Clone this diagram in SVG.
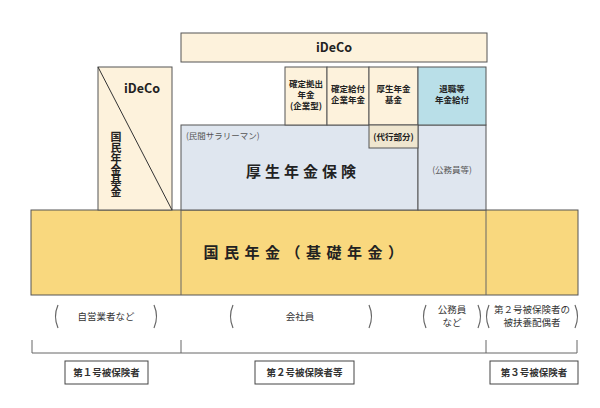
<svg xmlns="http://www.w3.org/2000/svg" width="600" height="408" viewBox="0 0 600 408">
<style>
text{font-family:"Noto Sans CJK JP","Noto Sans",sans-serif;fill:#222;}
.box{stroke:#555;stroke-width:1;}
.beige{fill:#fdf2dc;}
.yellow{fill:#f9d87e;}
.gray{fill:#dfe6ef;}
.blue{fill:#b9dfe8;}
.dai{fill:#efe6cf;}
.sm{font-size:8.5px;font-weight:700;text-anchor:middle;}
.note{font-size:8.5px;fill:#555;}
.big{font-size:15px;font-weight:700;text-anchor:middle;}
.lbl{font-size:9.5px;text-anchor:middle;fill:#333;}
.br{fill:none;stroke:#666;stroke-width:1.2;}
.ln{stroke:#666;stroke-width:1;fill:none;}
</style>
<rect width="600" height="408" fill="#fff"/>

<g id="kokumin-base">
<rect class="box yellow" x="31" y="210" width="547" height="85"/>
<line class="ln" x1="181" y1="210" x2="181" y2="295" stroke="#777"/>
<line class="ln" x1="486" y1="210" x2="486" y2="295" stroke="#777"/>
<text class="big" x="306" y="258" font-size="14" letter-spacing="5.5">国民年金（基礎年金）</text>
</g>

<g id="ideco-top">
<rect class="box beige" x="181" y="33" width="306" height="29"/>
<text x="334" y="52" font-size="12.5" font-weight="700" text-anchor="middle">iDeCo</text>
</g>

<g id="kokumin-kikin">
<rect class="box beige" x="98" y="67" width="74" height="143"/>
<line x1="98" y1="67" x2="172" y2="210" stroke="#333" stroke-width="1"/>
<text x="142" y="93" font-size="12.5" font-weight="700" text-anchor="middle">iDeCo</text>
<text x="116" y="131" font-size="11" font-weight="700" style="writing-mode:vertical-rl">国民年金基金</text>
</g>

<g id="kosei">
<rect class="box gray" x="181" y="125" width="237" height="85"/>
<text class="note" x="186" y="139">(民間サラリーマン)</text>
<text class="big" x="303" y="177" letter-spacing="4">厚生年金保険</text>
</g>

<g id="komuin">
<rect class="box gray" x="418" y="125" width="68" height="85"/>
<text class="note" x="452" y="173" text-anchor="middle">(公務員等)</text>
</g>

<g id="dc">
<rect class="box beige" x="285" y="67" width="42" height="58"/>
<text class="sm" x="306" y="87">確定拠出</text>
<text class="sm" x="306" y="98">年金</text>
<text class="sm" x="306" y="109">(企業型)</text>
</g>
<g id="db">
<rect class="box beige" x="327" y="67" width="42" height="58"/>
<text class="sm" x="348" y="92">確定給付</text>
<text class="sm" x="348" y="103">企業年金</text>
</g>
<g id="kikin">
<rect class="box beige" x="369" y="67" width="49" height="58"/>
<text class="sm" x="393.5" y="92">厚生年金</text>
<text class="sm" x="393.5" y="103">基金</text>
</g>
<g id="taishoku">
<rect class="box blue" x="418" y="67" width="68" height="58"/>
<text class="sm" x="452" y="92">退職等</text>
<text class="sm" x="452" y="103">年金給付</text>
</g>
<g id="daiko">
<rect class="box dai" x="369" y="125" width="49" height="23"/>
<text class="sm" x="393.5" y="140">(代行部分)</text>
</g>

<g id="groups">
<path class="br" d="M58,305 Q53,316.5 58,328"/>
<path class="br" d="M154,305 Q159,316.5 154,328"/>
<text class="lbl" x="106" y="320">自営業者など</text>
<path class="br" d="M233,305 Q228,316.5 233,328"/>
<path class="br" d="M369,305 Q374,316.5 369,328"/>
<text class="lbl" x="300" y="320">会社員</text>
<path class="br" d="M426,305 Q421,316.5 426,328"/>
<path class="br" d="M478,305 Q483,316.5 478,328"/>
<text class="lbl" x="452" y="313">公務員</text>
<text class="lbl" x="452" y="326">など</text>
<path class="br" d="M489,305 Q484,316.5 489,328"/>
<path class="br" d="M575,305 Q580,316.5 575,328"/>
<text class="lbl" x="532" y="313">第２号被保険者の</text>
<text class="lbl" x="532" y="326">被扶養配偶者</text>
</g>

<g id="connectors">
<path class="ln" d="M32,340 V353 H577 V340"/>
<line class="ln" x1="181" y1="340" x2="181" y2="353"/>
<line class="ln" x1="486" y1="340" x2="486" y2="353"/>
</g>

<g id="type1">
<rect x="65" y="361" width="83" height="23" fill="#fff" stroke="#444"/>
<text class="lbl" x="106.5" y="376" font-weight="700" fill="#222">第１号被保険者</text>
</g>
<g id="type2">
<rect x="255" y="361" width="99" height="23" fill="#fff" stroke="#444"/>
<text class="lbl" x="304.5" y="376" font-weight="700" fill="#222">第２号被保険者等</text>
</g>
<g id="type3">
<rect x="490" y="361" width="88" height="23" fill="#fff" stroke="#444"/>
<text class="lbl" x="534" y="376" font-weight="700" fill="#222">第３号被保険者</text>
</g>
</svg>
